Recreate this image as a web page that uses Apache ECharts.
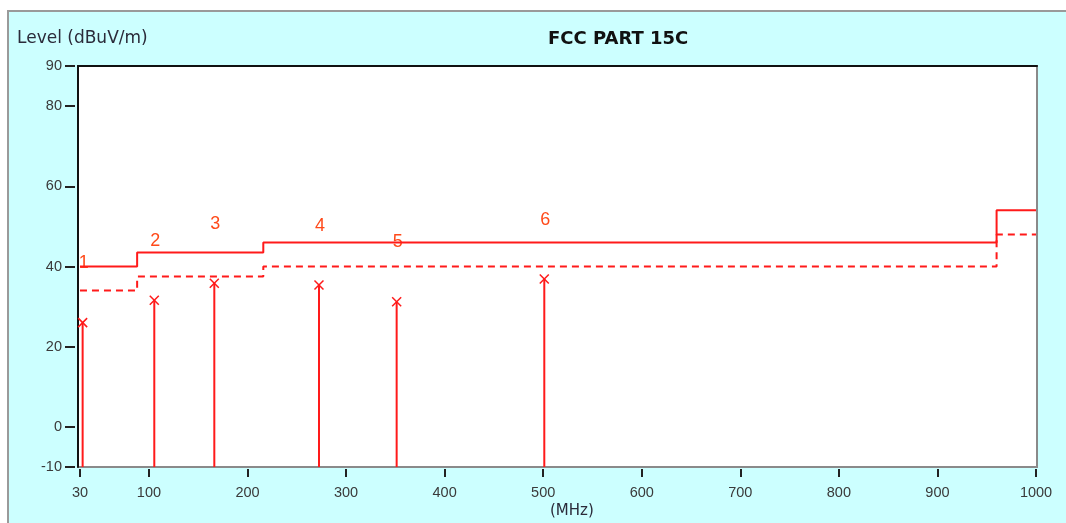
<!DOCTYPE html>
<html>
<head>
<meta charset="utf-8">
<script src="https://cdn.jsdelivr.net/npm/echarts@6/dist/echarts.min.js"></script>
<style>
html,body{margin:0;padding:0;background:#fff;width:1066px;height:523px;overflow:hidden;}
#frame{position:absolute;left:7px;top:10px;right:-4px;bottom:-4px;background:#CCFFFF;border-left:2px solid #9a9a9a;border-top:2px solid #9a9a9a;}
#chart{position:absolute;left:0;top:0;width:1066px;height:523px;}
</style>
</head>
<body>
<div id="frame"></div>
<div id="chart"></div>
<script>
// Limit line (FCC Part 15C), step changes at these frequencies
const limitFreq = [30, 88, 216, 960, 1000];
const limitLevel = [40, 43.5, 46, 54, 54];
// Margin line (limit - 6 dB)
const marginLevel = [34, 37.5, 40, 48, 48];
// Measured peaks
const markerFreq = [32.7, 105.4, 166.3, 272.5, 351.3, 501.1];
const markerLevel = [26.0, 31.6, 35.8, 35.4, 31.2, 36.9];
const markerNames = ['1', '2', '3', '4', '5', '6'];
// Tick labels
const xTicks = [30, 100, 200, 300, 400, 500, 600, 700, 800, 900, 1000];
const yTicks = [-10, 0, 20, 40, 60, 80, 90];

const chart = echarts.init(document.getElementById('chart'));
const red = '#ff1a1a';
const tickColor = '#222';
const labelFont = {fontFamily: 'Liberation Sans', fontSize: 14.5, color: '#3a3a3a'};

chart.setOption({
  backgroundColor: 'transparent',
  animation: false,
  title: [
    {text: 'Level (dBuV/m)', left: 17, top: 30, padding: 0,
     textStyle: {fontFamily: 'DejaVu Sans', fontSize: 17, fontWeight: 'normal', color: '#2b2b3a'}},
    {text: 'FCC PART 15C', left: 548, top: 30, padding: 0,
     textStyle: {fontFamily: 'DejaVu Sans', fontSize: 18, fontWeight: 'bold', color: '#111'}},
    {text: '(MHz)', left: 550, top: 504, padding: 0,
     textStyle: {fontFamily: 'DejaVu Sans', fontSize: 15, fontWeight: 'normal', color: '#2b2b3a'}}
  ],
  grid: {left: 78, top: 66, right: 29, bottom: 56, show: true, backgroundColor: '#fff',
         borderColor: '#8a8a8a', borderWidth: 2},
  xAxis: [
    {type: 'value', min: 28, max: 1001, position: 'bottom', offset: 2,
     axisLine: {show: false, onZero: false}, splitLine: {show: false},
     axisTick: {show: true, length: 8, lineStyle: {color: tickColor, width: 2}, customValues: xTicks},
     axisLabel: Object.assign({margin: 16, customValues: xTicks, formatter: v => String(v)}, labelFont)},
    {type: 'value', min: 28, max: 1001, position: 'top',
     axisLine: {show: true, onZero: false, lineStyle: {color: '#111', width: 2}},
     axisTick: {show: false}, axisLabel: {show: false}, splitLine: {show: false}}
  ],
  yAxis: [
    {type: 'value', min: -10, max: 90, position: 'left', offset: 3,
     axisLine: {show: false, onZero: false}, splitLine: {show: false},
     axisTick: {show: true, length: 10, lineStyle: {color: tickColor, width: 2}, customValues: yTicks},
     axisLabel: Object.assign({margin: 13, customValues: yTicks, formatter: v => String(v)}, labelFont)},
    {type: 'value', min: -10, max: 90, position: 'left',
     axisLine: {show: true, onZero: false, lineStyle: {color: '#111', width: 2}},
     axisTick: {show: false}, axisLabel: {show: false}, splitLine: {show: false}}
  ],
  series: [
    {type: 'line', xAxisIndex: 0, yAxisIndex: 0, step: 'end', symbol: 'none',
     data: limitFreq.map((f, i) => [f, limitLevel[i]]),
     lineStyle: {color: red, width: 2}},
    {type: 'line', xAxisIndex: 0, yAxisIndex: 0, step: 'end', symbol: 'none',
     data: limitFreq.map((f, i) => [f, marginLevel[i]]),
     lineStyle: {color: red, width: 2, type: [7, 5]}},
    {type: 'custom', xAxisIndex: 0, yAxisIndex: 0,
     data: markerFreq.map((f, i) => [f, markerLevel[i], i]),
     renderItem: function (params, api) {
       const x = api.value(0), v = api.value(1), idx = api.value(2);
       const top = api.coord([x, v]);
       const bot = api.coord([x, -10]);
       const lab = api.coord([x, v + 14.8]);
       const s = 4.5;
       const st = {stroke: red, lineWidth: 2};
       return {type: 'group', children: [
         {type: 'line', shape: {x1: top[0], y1: top[1], x2: bot[0], y2: bot[1]}, style: st},
         {type: 'line', shape: {x1: top[0] - s, y1: top[1] - s, x2: top[0] + s, y2: top[1] + s}, style: {stroke: red, lineWidth: 1.5}},
         {type: 'line', shape: {x1: top[0] - s, y1: top[1] + s, x2: top[0] + s, y2: top[1] - s}, style: {stroke: red, lineWidth: 1.5}},
         {type: 'text', x: lab[0] + 1, y: lab[1],
          style: {text: markerNames[idx], fill: '#ff4a1a', font: '18px "Liberation Sans"',
                  align: 'center', verticalAlign: 'middle'}}
       ]};
     }}
  ]
});
</script>
</body>
</html>
